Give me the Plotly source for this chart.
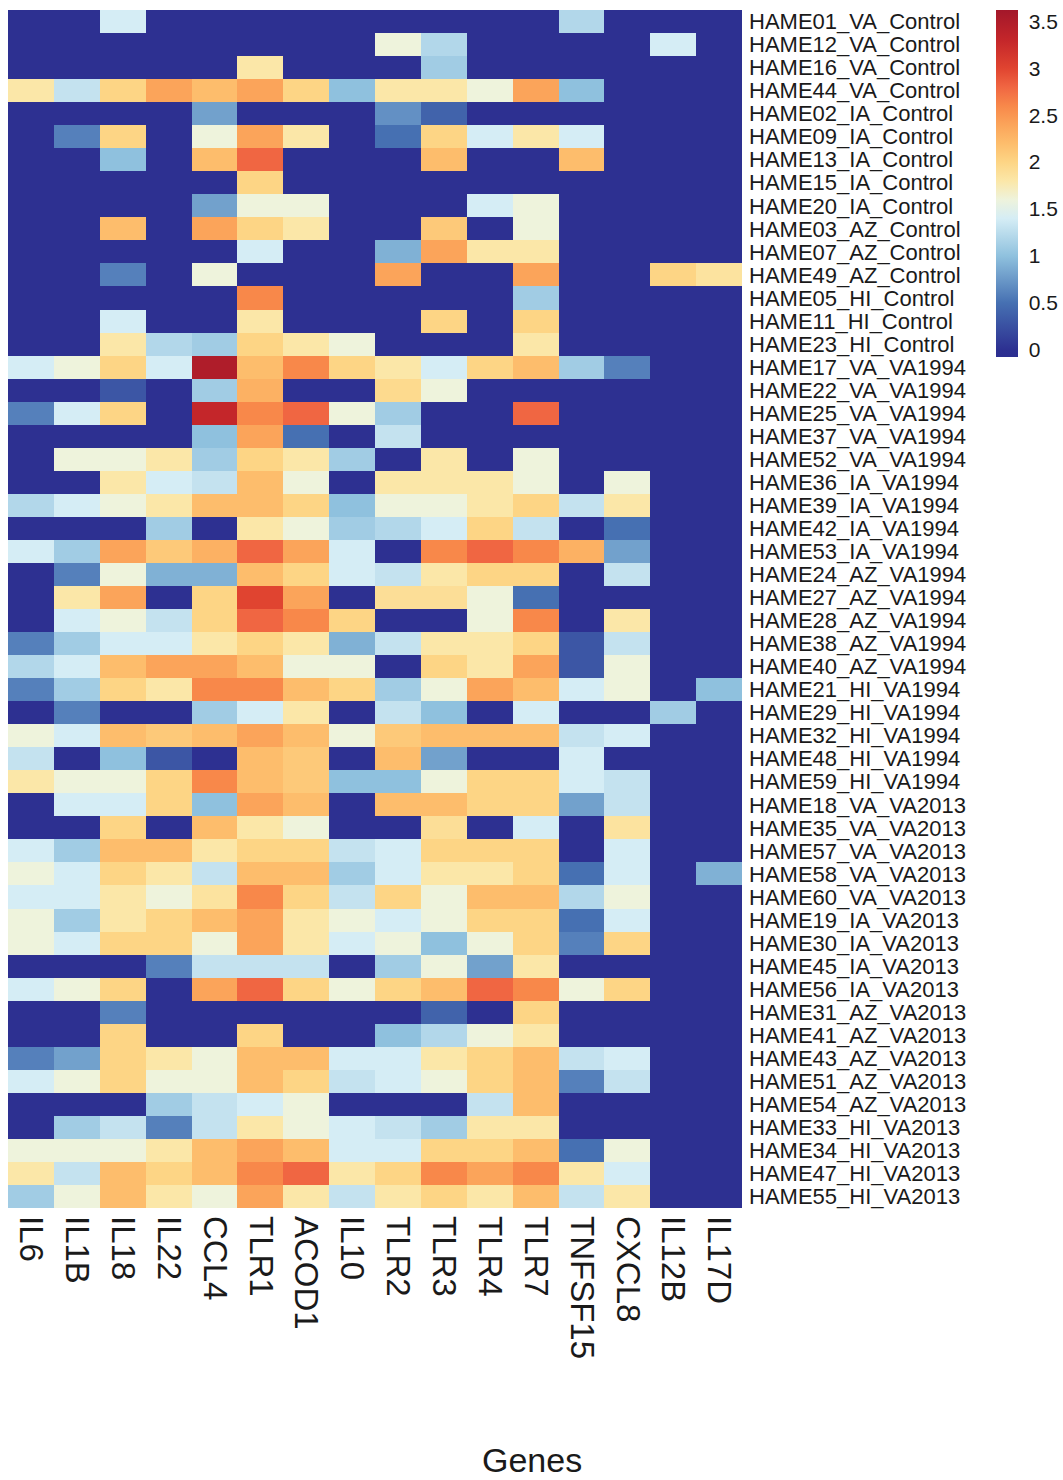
import plotly.graph_objects as go

genes = ["IL6", "IL1B", "IL18", "IL22", "CCL4", "TLR1", "ACOD1", "IL10",
         "TLR2", "TLR3", "TLR4", "TLR7", "TNFSF15", "CXCL8", "IL12B", "IL17D"]

samples = [
    "HAME01_VA_Control", "HAME12_VA_Control", "HAME16_VA_Control", "HAME44_VA_Control",
    "HAME02_IA_Control", "HAME09_IA_Control", "HAME13_IA_Control", "HAME15_IA_Control",
    "HAME20_IA_Control", "HAME03_AZ_Control", "HAME07_AZ_Control", "HAME49_AZ_Control",
    "HAME05_HI_Control", "HAME11_HI_Control", "HAME23_HI_Control",
    "HAME17_VA_VA1994", "HAME22_VA_VA1994", "HAME25_VA_VA1994", "HAME37_VA_VA1994",
    "HAME52_VA_VA1994", "HAME36_IA_VA1994", "HAME39_IA_VA1994", "HAME42_IA_VA1994",
    "HAME53_IA_VA1994", "HAME24_AZ_VA1994", "HAME27_AZ_VA1994", "HAME28_AZ_VA1994",
    "HAME38_AZ_VA1994", "HAME40_AZ_VA1994", "HAME21_HI_VA1994", "HAME29_HI_VA1994",
    "HAME32_HI_VA1994", "HAME48_HI_VA1994", "HAME59_HI_VA1994",
    "HAME18_VA_VA2013", "HAME35_VA_VA2013", "HAME57_VA_VA2013", "HAME58_VA_VA2013",
    "HAME60_VA_VA2013", "HAME19_IA_VA2013", "HAME30_IA_VA2013", "HAME45_IA_VA2013",
    "HAME56_IA_VA2013", "HAME31_AZ_VA2013", "HAME41_AZ_VA2013", "HAME43_AZ_VA2013",
    "HAME51_AZ_VA2013", "HAME54_AZ_VA2013", "HAME33_HI_VA2013", "HAME34_HI_VA2013",
    "HAME47_HI_VA2013", "HAME55_HI_VA2013",
]

# expression values, one row per sample, columns in the order of `genes`
expression = [
    [0, 0, 1.4, 0, 0, 0, 0, 0, 0, 0, 0, 0, 1.2, 0, 0, 0],
    [0, 0, 0, 0, 0, 0, 0, 0, 1.6, 1.2, 0, 0, 0, 0, 1.4, 0],
    [0, 0, 0, 0, 0, 1.8, 0, 0, 0, 1.1, 0, 0, 0, 0, 0, 0],
    [1.8, 1.3, 2.0, 2.4, 2.2, 2.4, 2.0, 1.0, 1.8, 1.8, 1.6, 2.4, 1.0, 0, 0, 0],
    [0, 0, 0, 0, 0.8, 0, 0, 0, 0.7, 0.4, 0, 0, 0, 0, 0, 0],
    [0, 0.6, 2.0, 0, 1.6, 2.4, 1.8, 0, 0.5, 2.0, 1.4, 1.8, 1.4, 0, 0, 0],
    [0, 0, 1.0, 0, 2.2, 2.8, 0, 0, 0, 2.2, 0, 0, 2.2, 0, 0, 0],
    [0, 0, 0, 0, 0, 2.0, 0, 0, 0, 0, 0, 0, 0, 0, 0, 0],
    [0, 0, 0, 0, 0.8, 1.6, 1.6, 0, 0, 0, 1.4, 1.6, 0, 0, 0, 0],
    [0, 0, 2.2, 0, 2.4, 2.0, 1.8, 0, 0, 2.1, 0, 1.6, 0, 0, 0, 0],
    [0, 0, 0, 0, 0, 1.4, 0, 0, 0.9, 2.4, 1.8, 1.8, 0, 0, 0, 0],
    [0, 0, 0.6, 0, 1.6, 0, 0, 0, 2.4, 0, 0, 2.4, 0, 0, 2.0, 1.85],
    [0, 0, 0, 0, 0, 2.6, 0, 0, 0, 0, 0, 1.1, 0, 0, 0, 0],
    [0, 0, 1.4, 0, 0, 1.8, 0, 0, 0, 2.0, 0, 2.0, 0, 0, 0, 0],
    [0, 0, 1.8, 1.2, 1.1, 2.0, 1.8, 1.6, 0, 0, 0, 1.8, 0, 0, 0, 0],
    [1.4, 1.6, 2.0, 1.4, 3.5, 2.2, 2.6, 2.0, 1.8, 1.4, 2.0, 2.2, 1.1, 0.6, 0, 0],
    [0, 0, 0.3, 0, 1.1, 2.3, 0, 0, 1.95, 1.6, 0, 0, 0, 0, 0, 0],
    [0.6, 1.4, 2.0, 0, 3.3, 2.6, 2.8, 1.6, 1.1, 0, 0, 2.8, 0, 0, 0, 0],
    [0, 0, 0, 0, 1.0, 2.4, 0.5, 0, 1.3, 0, 0, 0, 0, 0, 0, 0],
    [0, 1.6, 1.6, 1.8, 1.1, 2.0, 1.8, 1.1, 0, 1.8, 0, 1.6, 0, 0, 0, 0],
    [0, 0, 1.8, 1.4, 1.3, 2.2, 1.6, 0, 1.8, 1.8, 1.8, 1.6, 0, 1.6, 0, 0],
    [1.2, 1.4, 1.6, 1.8, 2.2, 2.2, 2.0, 1.0, 1.6, 1.6, 1.8, 2.0, 1.3, 1.8, 0, 0],
    [0, 0, 0, 1.1, 0, 1.8, 1.6, 1.1, 1.2, 1.4, 2.0, 1.3, 0, 0.5, 0, 0],
    [1.4, 1.1, 2.4, 2.1, 2.3, 2.8, 2.4, 1.4, 0, 2.6, 2.8, 2.6, 2.3, 0.8, 0, 0],
    [0, 0.6, 1.6, 0.9, 0.9, 2.2, 2.0, 1.4, 1.3, 1.8, 2.0, 2.0, 0, 1.3, 0, 0],
    [0, 1.8, 2.4, 0, 2.0, 3.0, 2.4, 0, 1.9, 1.9, 1.6, 0.5, 0, 0, 0, 0],
    [0, 1.4, 1.6, 1.3, 2.0, 2.8, 2.6, 2.0, 0, 0, 1.6, 2.6, 0, 1.8, 0, 0],
    [0.6, 1.1, 1.4, 1.4, 1.8, 2.0, 1.8, 0.9, 1.3, 1.8, 1.8, 2.0, 0.3, 1.3, 0, 0],
    [1.2, 1.4, 2.2, 2.4, 2.4, 2.2, 1.6, 1.6, 0, 2.0, 1.8, 2.4, 0.3, 1.6, 0, 0],
    [0.6, 1.1, 2.0, 1.8, 2.6, 2.6, 2.2, 2.0, 1.1, 1.6, 2.4, 2.2, 1.4, 1.6, 0, 1.0],
    [0, 0.6, 0, 0, 1.1, 1.4, 1.8, 0, 1.3, 1.0, 0, 1.4, 0, 0, 1.1, 0],
    [1.6, 1.4, 2.2, 2.1, 2.2, 2.4, 2.2, 1.6, 2.1, 2.2, 2.2, 2.2, 1.3, 1.4, 0, 0],
    [1.3, 0, 1.0, 0.3, 0, 2.2, 2.1, 0, 2.2, 0.8, 0, 0, 1.4, 0, 0, 0],
    [1.8, 1.6, 1.6, 2.0, 2.6, 2.2, 2.1, 1.0, 1.0, 1.6, 2.0, 2.0, 1.4, 1.3, 0, 0],
    [0, 1.4, 1.4, 2.0, 1.0, 2.4, 2.2, 0, 2.2, 2.2, 2.0, 2.0, 0.8, 1.3, 0, 0],
    [0, 0, 2.0, 0, 2.2, 1.8, 1.6, 0, 0, 1.9, 0, 1.4, 0, 1.85, 0, 0],
    [1.4, 1.1, 2.2, 2.2, 1.8, 2.0, 2.0, 1.3, 1.4, 2.0, 2.0, 2.0, 0, 1.4, 0, 0],
    [1.6, 1.4, 2.0, 1.8, 1.3, 2.2, 2.2, 1.1, 1.4, 1.8, 1.8, 2.0, 0.5, 1.4, 0, 0.9],
    [1.4, 1.4, 1.8, 1.6, 1.85, 2.6, 2.0, 1.3, 2.0, 1.6, 2.2, 2.2, 1.2, 1.6, 0, 0],
    [1.6, 1.1, 1.8, 2.0, 2.2, 2.4, 1.8, 1.6, 1.4, 1.6, 2.0, 2.0, 0.5, 1.4, 0, 0],
    [1.6, 1.4, 2.0, 2.0, 1.6, 2.4, 1.8, 1.4, 1.6, 1.0, 1.6, 2.0, 0.6, 2.0, 0, 0],
    [0, 0, 0, 0.6, 1.3, 1.3, 1.3, 0, 1.1, 1.6, 0.8, 1.8, 0, 0, 0, 0],
    [1.4, 1.6, 2.0, 0, 2.4, 2.8, 2.0, 1.6, 2.0, 2.2, 2.8, 2.6, 1.6, 2.0, 0, 0],
    [0, 0, 0.6, 0, 0, 0, 0, 0, 0, 0.4, 0, 2.0, 0, 0, 0, 0],
    [0, 0, 2.0, 0, 0, 2.0, 0, 0, 1.0, 1.2, 1.6, 1.8, 0, 0, 0, 0],
    [0.6, 0.8, 2.0, 1.8, 1.6, 2.2, 2.2, 1.4, 1.4, 1.8, 2.0, 2.2, 1.3, 1.4, 0, 0],
    [1.4, 1.6, 2.0, 1.6, 1.6, 2.2, 2.0, 1.3, 1.4, 1.6, 2.0, 2.2, 0.6, 1.3, 0, 0],
    [0, 0, 0, 1.1, 1.3, 1.4, 1.6, 0, 0, 0, 1.3, 2.2, 0, 0, 0, 0],
    [0, 1.1, 1.3, 0.6, 1.3, 1.8, 1.6, 1.4, 1.3, 1.1, 1.8, 1.8, 0, 0, 0, 0],
    [1.6, 1.6, 1.6, 1.8, 2.2, 2.4, 2.2, 1.4, 1.4, 2.0, 2.0, 2.2, 0.5, 1.6, 0, 0],
    [1.8, 1.3, 2.2, 2.0, 2.2, 2.6, 2.8, 1.8, 2.0, 2.6, 2.4, 2.6, 1.8, 1.4, 0, 0],
    [1.1, 1.6, 2.2, 1.8, 1.6, 2.4, 1.8, 1.3, 1.8, 2.0, 1.8, 2.2, 1.3, 1.8, 0, 0],
]

colorbar_ticks = [0, 0.5, 1, 1.5, 2, 2.5, 3, 3.5]
ZMIN, ZMAX = -0.075, 3.62

stops = [
    (-0.075, "#2c2e90"), (0.0, "#2d3091"), (0.5, "#4670b2"), (1.0, "#8fc1de"),
    (1.4, "#d5edf5"), (1.6, "#eef3dc"), (1.8, "#fbe7a8"), (2.0, "#fdd585"),
    (2.2, "#fdbd6c"), (2.4, "#fba45a"), (2.6, "#f8884a"), (2.8, "#f06642"),
    (3.0, "#e04430"), (3.3, "#c4262a"), (3.62, "#a3172a"),
]
colorscale = [[(v - ZMIN) / (ZMAX - ZMIN), c] for v, c in stops]

W, H = 1063, 1480
ML, MR, MT, MB = 8, 321, 10, 272
pw = W - ML - MR
ph = H - MT - MB

FONT = "Liberation Sans, Arial, sans-serif"
TXT = "#1a1a1a"

fig = go.Figure(go.Heatmap(
    z=expression, x=genes, y=samples,
    zmin=ZMIN, zmax=ZMAX, colorscale=colorscale,
    xgap=0, ygap=0,
    colorbar=dict(
        x=(996 - ML) / pw, xanchor="left", xpad=0,
        y=1, yanchor="top", ypad=0,
        len=347, lenmode="pixels",
        thickness=22, thicknessmode="pixels",
        outlinewidth=0,
        tickmode="array",
        tickvals=colorbar_ticks,
        ticktext=[f"{t:g}" for t in colorbar_ticks],
        ticks="outside", ticklen=7, tickcolor="rgba(0,0,0,0)",
        ticklabeloverflow="allow",
        tickfont=dict(family=FONT, size=21, color=TXT),
    ),
))

fig.update_layout(
    width=W, height=H,
    margin=dict(l=ML, r=MR, t=MT, b=MB, pad=0, autoexpand=False),
    paper_bgcolor="white", plot_bgcolor="white",
    font=dict(family=FONT, color=TXT),
    xaxis=dict(
        tickangle=90, tickfont=dict(size=33, family=FONT, color=TXT),
        tickmode="array", tickvals=genes,
        ticks="", showgrid=False, zeroline=False, showline=False,
        ticklabelstandoff=7,
    ),
    yaxis=dict(
        side="right", autorange="reversed",
        tickmode="array", tickvals=samples,
        tickfont=dict(size=22, family=FONT, color=TXT),
        ticks="", showgrid=False, zeroline=False, showline=False,
        ticklabelstandoff=6,
    ),
    annotations=[dict(
        text="Genes", xref="paper", yref="paper",
        x=(531.5 - ML) / pw, y=-(1460 - (H - MB)) / ph,
        xanchor="center", yanchor="middle", showarrow=False,
        font=dict(size=34, family=FONT, color=TXT),
    )],
)

# remove the browser's default 8px body margin so the figure fills the window exactly
fig.write_html(
    "out.html",
    config={"displayModeBar": False},
    post_script="document.body.style.margin='0';document.body.style.overflow='hidden';",
)
